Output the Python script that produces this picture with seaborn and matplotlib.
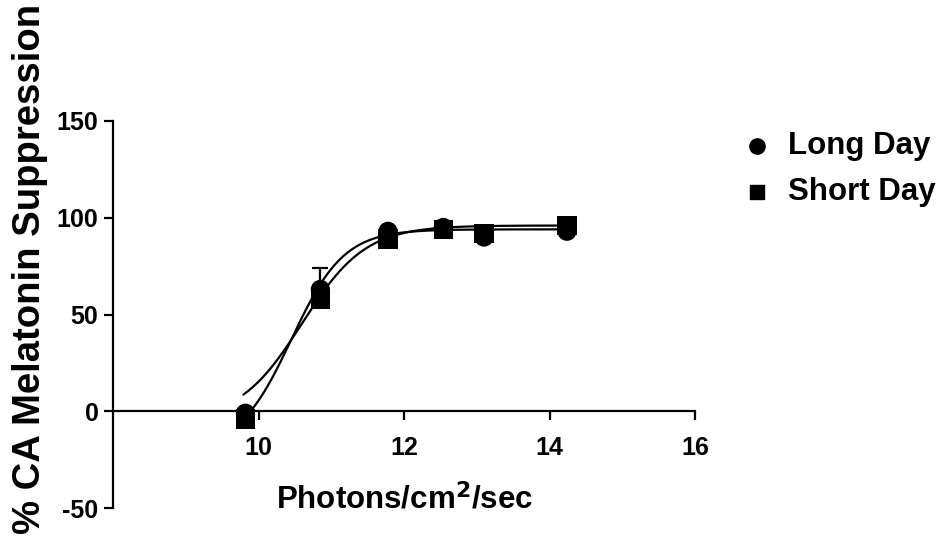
import numpy as np
import pandas as pd
import matplotlib
matplotlib.use("Agg")
import matplotlib.pyplot as plt
import seaborn as sns

# log photon dose (photons/cm^2/sec)
dose = [9.82, 10.85, 11.78, 12.54, 13.10, 14.24]

# mean % suppression and SEM per photoperiod
long_day = [-1, 63, 93, 95, 90, 93]
long_sem = [2, 11, 2, 1, 2, 1]
short_day = [-4, 58, 89, 94, 92, 96]
short_sem = [2, 3, 2, 1, 1, 1]

# four-parameter logistic fits: bottom, top, logEC50, Hill slope
long_fit = [-20, 94, 10.45, 1.2]
short_fit = [-5, 96, 10.60, 1.0]

groups = ["Long Day", "Short Day"]
markers = {"Long Day": "o", "Short Day": "s"}

sns.set_theme(style="white")
plt.rcParams["font.family"] = ["Liberation Sans", "DejaVu Sans"]
plt.rcParams["font.weight"] = "bold"
plt.rcParams["axes.unicode_minus"] = False
plt.rcParams["text.color"] = "black"

df = pd.DataFrame({
    "dose": dose * 2,
    "pct": long_day + short_day,
    "err": long_sem + short_sem,
    "group": ["Long Day"] * len(dose) + ["Short Day"] * len(dose),
})


def logistic(x, bottom, top, logec50, hill):
    return bottom + (top - bottom) / (1 + 10 ** ((logec50 - x) * hill))


xs = np.linspace(min(dose) - 0.03, max(dose) + 0.1, 300)
fits = pd.DataFrame({
    "dose": np.concatenate([xs, xs]),
    "pct": np.concatenate([logistic(xs, *long_fit), logistic(xs, *short_fit)]),
    "group": ["Long Day"] * len(xs) + ["Short Day"] * len(xs),
})

fig = plt.figure(figsize=(9.44, 5.40), dpi=100)
ax = fig.add_axes([113 / 944, 32 / 540, 582 / 944, 387 / 540])

sns.lineplot(data=fits, x="dose", y="pct", units="group", estimator=None,
             color="black", lw=1.6, ax=ax, legend=False)

# upper SEM bars only
for g in groups:
    sub = df[df["group"] == g]
    ax.errorbar(sub["dose"], sub["pct"],
                yerr=[np.zeros(len(sub)), sub["err"].to_numpy()],
                fmt="none", ecolor="black", elinewidth=1.6, capsize=6,
                capthick=1.6, zorder=3)

sns.scatterplot(data=df, x="dose", y="pct", style="group", markers=markers,
                color="black", s=190, edgecolor="black", linewidth=0,
                ax=ax, zorder=4, legend=False)

ax.set_xlim(8, 16)
ax.set_ylim(-50, 150)
ax.set_xticks([10, 12, 14, 16])
ax.set_yticks([-50, 0, 50, 100, 150])
ax.spines["top"].set_visible(False)
ax.spines["right"].set_visible(False)
ax.spines["bottom"].set_position(("data", 0))
for s in ("left", "bottom"):
    ax.spines[s].set_color("black")
    ax.spines[s].set_linewidth(1.6)
ax.tick_params(axis="both", direction="out", length=6.5, width=1.6,
               color="black", labelsize=18, labelcolor="black",
               bottom=True, left=True)
ax.tick_params(axis="x", pad=11)
ax.tick_params(axis="y", pad=4)
for lab in ax.get_xticklabels() + ax.get_yticklabels():
    lab.set_fontweight("bold")

ax.set_xlabel("")
ax.set_ylabel("")
fig.text(405 / 944, 1 - 500 / 540, r"Photons/cm$^{\mathbf{2}}$/sec",
         ha="center", va="center", fontsize=22.5, fontweight="bold",
         color="black")
fig.text(30 / 944, 1 - 269 / 540, "% CA Melatonin Suppression",
         rotation=90, ha="center", va="center", fontsize=27.5,
         fontweight="bold", color="black")

# legend entries to the right of the plot
for i, g in enumerate(groups):
    yy = 1 - (146 + 46 * i) / 540
    fig.lines.append(plt.Line2D([757 / 944], [yy], transform=fig.transFigure,
                                marker=markers[g], color="black",
                                markersize=11 if g == "Long Day" else 10,
                                linestyle="none"))
    fig.text(788 / 944, yy, g, ha="left", va="center", fontsize=22.5,
             fontweight="bold", color="black")

fig.savefig("out.png", dpi=100)
